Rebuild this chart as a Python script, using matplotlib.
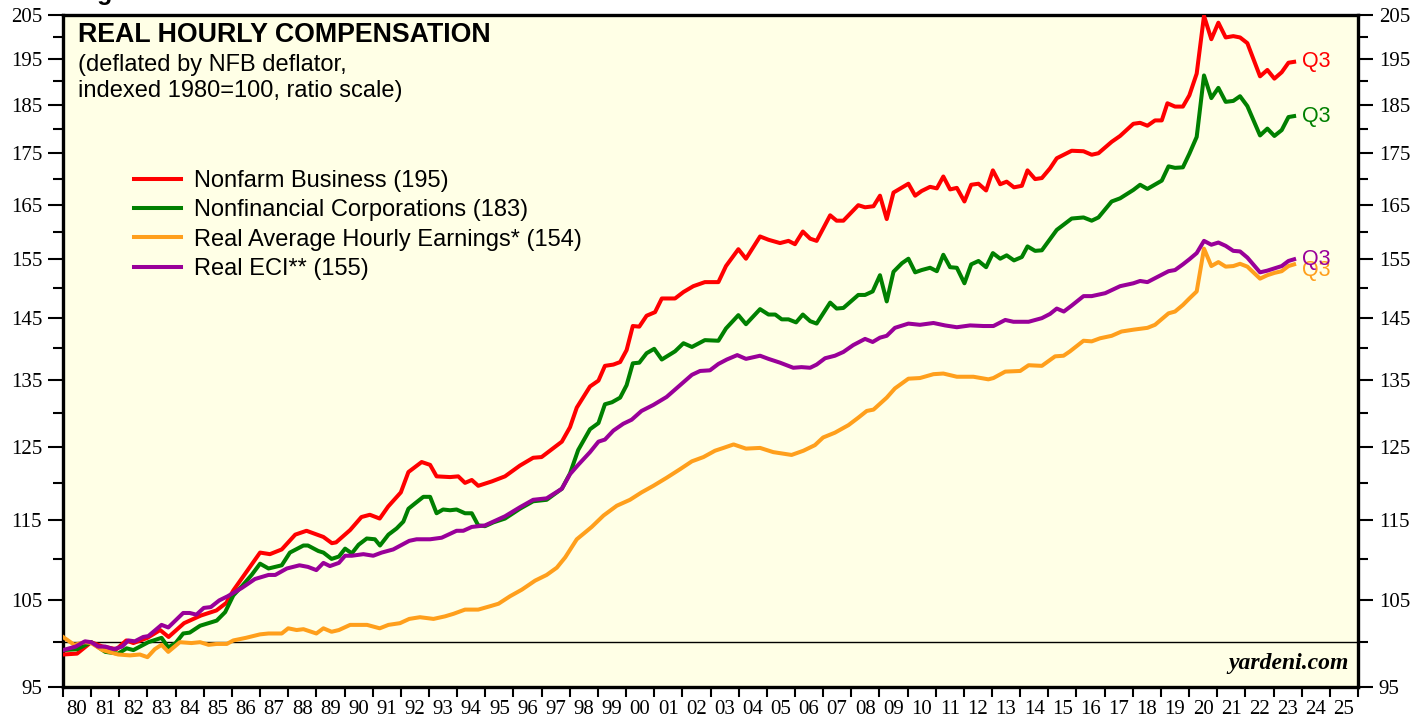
import numpy as np
import matplotlib.pyplot as plt
from matplotlib.ticker import FixedLocator, NullFormatter

# values (index, 1980=100)
nfb_t = [1980.0, 1980.5, 1981.0, 1981.4, 1981.9, 1982.25, 1982.5, 1983.0, 1983.45, 1983.75,
         1984.3, 1984.9, 1985.45, 1985.8, 1986.05, 1986.5, 1987.0, 1987.35, 1987.77, 1988.25,
         1988.65, 1989.25, 1989.55, 1989.7, 1990.2, 1990.6, 1990.9, 1991.25, 1991.55, 1992.0,
         1992.27, 1992.74, 1993.04, 1993.27, 1993.75, 1994.04, 1994.28, 1994.52, 1994.75, 1995.23,
         1995.7, 1996.23, 1996.7, 1997.0, 1997.72, 1998.01, 1998.25, 1998.72, 1999.02, 1999.25,
         1999.55, 1999.79, 2000.02, 2000.24, 2000.47, 2000.73, 2001.03, 2001.27, 2001.74, 2002.04,
         2002.39, 2002.8, 2003.28, 2003.55, 2003.99, 2004.26, 2004.76, 2005.06, 2005.47, 2005.77,
         2006.0, 2006.28, 2006.54, 2006.77, 2007.25, 2007.48, 2007.72, 2008.25, 2008.49, 2008.79,
         2009.02, 2009.26, 2009.5, 2010.03, 2010.27, 2010.5, 2010.8, 2011.04, 2011.27, 2011.51,
         2011.75, 2012.02, 2012.26, 2012.52, 2012.79, 2013.03, 2013.29, 2013.52, 2013.78, 2014.06,
         2014.26, 2014.53, 2014.77, 2015.06, 2015.3, 2015.83, 2016.25, 2016.54, 2016.78, 2017.25,
         2017.55, 2018.02, 2018.26, 2018.52, 2018.79, 2019.03, 2019.23, 2019.5, 2019.78, 2020.01,
         2020.27, 2020.53, 2020.79, 2021.04, 2021.3, 2021.57, 2021.81, 2022.07, 2022.52, 2022.78,
         2023.03, 2023.29, 2023.53, 2023.73]
nfb_v = [98.6, 98.7, 100.0, 99.5, 99.2, 100.2, 99.9, 100.5, 101.4, 100.6,
         102.2, 103.1, 103.7, 104.6, 106.1, 108.3, 110.8, 110.6, 111.2, 113.1,
         113.6, 112.8, 112.0, 112.1, 113.7, 115.4, 115.7, 115.2, 116.8, 118.7,
         121.5, 122.9, 122.5, 120.9, 120.8, 120.9, 120.0, 120.4, 119.6, 120.2,
         120.9, 122.4, 123.5, 123.6, 125.8, 127.9, 130.8, 134.0, 134.9, 137.2,
         137.4, 137.8, 139.7, 143.6, 143.5, 145.3, 145.9, 148.2, 148.2, 149.3,
         150.3, 151.0, 151.0, 153.8, 156.8, 155.1, 159.1, 158.5, 157.9, 158.3,
         157.7, 160.0, 158.7, 158.3, 163.0, 162.0, 162.0, 164.9, 164.5, 164.7,
         166.7, 162.3, 167.3, 169.0, 166.7, 167.6, 168.4, 168.1, 170.4, 167.9,
         168.2, 165.6, 168.8, 169.0, 167.7, 171.6, 168.9, 169.4, 168.3, 168.6,
         171.6, 169.9, 170.1, 172.0, 174.0, 175.5, 175.4, 174.7, 175.0, 177.3,
         178.5, 181.0, 181.2, 180.6, 181.7, 181.7, 185.3, 184.6, 184.6, 187.0,
         191.7, 204.8, 199.4, 203.2, 199.8, 200.1, 199.8, 198.5, 191.1, 192.5,
         190.6, 192.0, 194.1, 194.3]

nfc_t = [1980.0, 1980.5, 1981.0, 1981.5, 1981.96, 1982.26, 1982.5, 1983.03, 1983.5, 1983.74,
         1984.0, 1984.27, 1984.5, 1984.87, 1985.17, 1985.46, 1985.76, 1986.05, 1986.35, 1986.7,
         1987.0, 1987.3, 1987.77, 1988.06, 1988.54, 1988.7, 1989.07, 1989.25, 1989.54, 1989.8,
         1990.02, 1990.26, 1990.5, 1990.79, 1991.08, 1991.26, 1991.56, 1991.85, 1992.09, 1992.27,
         1992.5, 1992.8, 1993.04, 1993.27, 1993.5, 1993.75, 1993.98, 1994.28, 1994.52, 1994.75,
         1994.99, 1995.29, 1995.7, 1996.23, 1996.7, 1997.18, 1997.72, 1998.01, 1998.3, 1998.72,
         1999.02, 1999.25, 1999.5, 1999.79, 2000.02, 2000.24, 2000.47, 2000.73, 2001.0, 2001.27,
         2001.74, 2002.04, 2002.34, 2002.8, 2003.28, 2003.55, 2003.99, 2004.26, 2004.76, 2005.06,
         2005.3, 2005.53, 2005.77, 2006.04, 2006.28, 2006.54, 2006.77, 2007.25, 2007.48, 2007.72,
         2008.25, 2008.49, 2008.76, 2009.02, 2009.26, 2009.5, 2009.8, 2010.03, 2010.27, 2010.5,
         2010.8, 2011.04, 2011.27, 2011.51, 2011.75, 2012.02, 2012.26, 2012.52, 2012.79, 2013.03,
         2013.29, 2013.52, 2013.78, 2014.06, 2014.26, 2014.53, 2014.77, 2015.06, 2015.3, 2015.83,
         2016.25, 2016.54, 2016.78, 2017.25, 2017.55, 2018.02, 2018.26, 2018.52, 2019.03, 2019.27,
         2019.5, 2019.78, 2020.01, 2020.27, 2020.53, 2020.79, 2021.04, 2021.3, 2021.57, 2021.81,
         2022.07, 2022.52, 2022.78, 2023.03, 2023.29, 2023.53, 2023.73]
nfc_v = [99.1, 99.2, 100.0, 98.9, 98.7, 99.3, 99.1, 100.0, 100.5, 99.4,
         99.9, 101.0, 101.1, 101.9, 102.2, 102.5, 103.5, 105.5, 106.6, 108.0,
         109.4, 108.8, 109.2, 110.8, 111.7, 111.7, 111.0, 110.8, 110.0, 110.3,
         111.3, 110.7, 111.8, 112.6, 112.5, 111.7, 113.1, 113.9, 114.8, 116.5,
         117.2, 118.1, 118.1, 115.9, 116.4, 116.3, 116.4, 115.9, 115.9, 114.3,
         114.2, 114.7, 115.2, 116.5, 117.5, 117.7, 119.2, 121.3, 124.6, 127.6,
         128.5, 131.3, 131.6, 132.3, 134.2, 137.6, 137.7, 139.2, 139.9, 138.2,
         139.5, 140.8, 140.2, 141.3, 141.2, 143.2, 145.4, 143.9, 146.4, 145.5,
         145.5, 144.7, 144.7, 144.2, 145.5, 144.4, 144.0, 147.5, 146.5, 146.6,
         148.8, 148.8, 149.4, 152.2, 147.7, 152.8, 154.3, 155.1, 152.7, 153.1,
         153.5, 152.9, 155.8, 153.6, 153.5, 150.8, 154.1, 154.7, 153.6, 156.1,
         155.1, 155.7, 154.8, 155.4, 157.3, 156.5, 156.6, 158.6, 160.3, 162.4,
         162.6, 162.0, 162.6, 165.6, 166.2, 167.8, 168.8, 168.0, 169.6, 172.4,
         172.1, 172.2, 174.9, 178.3, 191.3, 186.4, 188.6, 185.6, 185.8, 186.8,
         184.7, 178.6, 180.0, 178.5, 179.7, 182.4, 182.6]

ahe_t = [1980.0, 1980.4, 1980.78, 1981.0, 1981.4, 1981.96, 1982.38, 1982.73, 1983.0, 1983.26,
         1983.5, 1983.74, 1984.15, 1984.56, 1984.87, 1985.17, 1985.46, 1985.82, 1986.05, 1986.5,
         1987.0, 1987.3, 1987.77, 1988.0, 1988.3, 1988.54, 1989.0, 1989.25, 1989.54, 1989.8,
         1990.2, 1990.8, 1991.25, 1991.56, 1991.97, 1992.3, 1992.68, 1993.16, 1993.57, 1993.87,
         1994.28, 1994.75, 1995.17, 1995.47, 1995.88, 1996.3, 1996.77, 1997.18, 1997.54, 1997.84,
         1998.25, 1998.55, 1998.78, 1999.2, 1999.67, 2000.14, 2000.55, 2000.97, 2001.44, 2001.92,
         2002.34, 2002.75, 2003.16, 2003.46, 2003.82, 2004.26, 2004.76, 2005.23, 2005.88, 2006.3,
         2006.71, 2007.0, 2007.42, 2007.9, 2008.25, 2008.55, 2008.79, 2009.26, 2009.55, 2010.03,
         2010.44, 2010.92, 2011.27, 2011.75, 2012.34, 2012.87, 2013.05, 2013.47, 2014.0, 2014.3,
         2014.77, 2015.24, 2015.54, 2015.77, 2016.25, 2016.54, 2016.84, 2017.25, 2017.6, 2018.02,
         2018.52, 2018.79, 2019.27, 2019.5, 2019.78, 2020.01, 2020.27, 2020.53, 2020.79, 2021.04,
         2021.3, 2021.57, 2021.81, 2022.07, 2022.52, 2022.78, 2023.03, 2023.29, 2023.53, 2023.73]
ahe_v = [100.6, 99.7, 100.0, 99.9, 99.1, 98.6, 98.5, 98.6, 98.3, 99.2,
         99.7, 98.9, 100.0, 99.9, 100.0, 99.7, 99.8, 99.8, 100.2, 100.5,
         100.9, 101.0, 101.0, 101.6, 101.4, 101.5, 101.0, 101.6, 101.2, 101.4,
         102.0, 102.0, 101.6, 102.0, 102.2, 102.7, 102.9, 102.7, 103.0, 103.3,
         103.8, 103.8, 104.2, 104.5, 105.4, 106.2, 107.3, 108.0, 108.9, 110.2,
         112.5, 113.4, 114.1, 115.6, 116.9, 117.7, 118.7, 119.6, 120.7, 121.9,
         123.0, 123.6, 124.5, 124.9, 125.4, 124.8, 124.9, 124.3, 123.9, 124.5,
         125.3, 126.4, 127.1, 128.2, 129.3, 130.3, 130.5, 132.3, 133.7, 135.2,
         135.3, 135.9, 136.0, 135.5, 135.5, 135.1, 135.3, 136.3, 136.4, 137.3,
         137.2, 138.7, 138.8, 139.5, 141.2, 141.1, 141.6, 142.0, 142.7, 143.0,
         143.3, 143.8, 145.7, 146.0, 147.1, 148.2, 149.4, 156.9, 153.8, 154.5,
         153.7, 153.8, 154.2, 153.7, 151.6, 152.2, 152.6, 152.9, 153.8, 154.1]

eci_t = [1980.0, 1980.45, 1980.78, 1981.0, 1981.25, 1981.5, 1981.8, 1982.1, 1982.32, 1982.55,
         1982.85, 1983.03, 1983.5, 1983.74, 1984.27, 1984.5, 1984.74, 1985.0, 1985.25, 1985.55,
         1985.85, 1986.35, 1986.82, 1987.3, 1987.54, 1987.95, 1988.4, 1988.7, 1989.0, 1989.25,
         1989.48, 1989.8, 1990.02, 1990.26, 1990.67, 1991.02, 1991.32, 1991.73, 1992.09, 1992.3,
         1992.56, 1993.04, 1993.45, 1993.75, 1993.98, 1994.22, 1994.52, 1994.99, 1995.29, 1995.7,
         1996.23, 1996.7, 1997.18, 1997.72, 1998.01, 1998.3, 1998.72, 1999.02, 1999.25, 1999.55,
         1999.9, 2000.2, 2000.55, 2000.97, 2001.44, 2001.92, 2002.34, 2002.63, 2002.98, 2003.28,
         2003.58, 2003.95, 2004.26, 2004.76, 2005.06, 2005.47, 2005.94, 2006.23, 2006.54, 2006.77,
         2007.07, 2007.42, 2007.72, 2008.07, 2008.49, 2008.76, 2009.02, 2009.26, 2009.55, 2010.03,
         2010.44, 2010.92, 2011.33, 2011.75, 2012.22, 2012.7, 2013.05, 2013.47, 2013.76, 2014.3,
         2014.77, 2015.06, 2015.3, 2015.55, 2015.83, 2016.25, 2016.54, 2017.02, 2017.55, 2018.02,
         2018.26, 2018.52, 2019.03, 2019.27, 2019.5, 2019.78, 2020.01, 2020.27, 2020.53, 2020.79,
         2021.04, 2021.3, 2021.57, 2021.81, 2022.07, 2022.52, 2022.78, 2023.03, 2023.29, 2023.53,
         2023.73]
eci_v = [99.1, 99.5, 100.1, 100.0, 99.5, 99.5, 99.2, 99.5, 100.2, 100.1,
         100.6, 100.7, 102.0, 101.7, 103.4, 103.4, 103.2, 104.0, 104.1, 104.9,
         105.4, 106.4, 107.5, 108.0, 108.0, 108.8, 109.2, 109.0, 108.6, 109.5,
         109.1, 109.5, 110.4, 110.4, 110.6, 110.4, 110.8, 111.2, 111.9, 112.3,
         112.5, 112.5, 112.7, 113.2, 113.6, 113.6, 114.1, 114.3, 114.8, 115.5,
         116.7, 117.7, 117.9, 119.2, 121.2, 122.5, 124.3, 125.8, 126.1, 127.4,
         128.4, 129.0, 130.3, 131.2, 132.4, 134.2, 135.8, 136.4, 136.5, 137.5,
         138.2, 138.9, 138.3, 138.8, 138.3, 137.7, 136.9, 137.0, 136.9, 137.4,
         138.4, 138.8, 139.4, 140.5, 141.5, 141.0, 141.7, 142.0, 143.3, 144.0,
         143.8, 144.1, 143.7, 143.4, 143.7, 143.6, 143.6, 144.6, 144.3, 144.3,
         144.9, 145.6, 146.5, 146.0, 147.0, 148.6, 148.6, 149.1, 150.3, 150.8,
         151.2, 151.0, 152.3, 152.9, 153.1, 154.1, 155.0, 156.1, 158.3, 157.6,
         158.0, 157.4, 156.5, 156.4, 155.3, 152.7, 153.0, 153.4, 153.8, 154.7,
         155.0]

series = [
    ('Nonfarm Business (195)', nfb_t, nfb_v, '#ff0000'),
    ('Nonfinancial Corporations (183)', nfc_t, nfc_v, '#008000'),
    ('Real Average Hourly Earnings* (154)', ahe_t, ahe_v, '#ff9f1c'),
    ('Real ECI** (155)', eci_t, eci_v, '#990099'),
]

y_major = [95, 105, 115, 125, 135, 145, 155, 165, 175, 185, 195, 205]
y_minor = [100, 110, 120, 130, 140, 150, 160, 170, 180, 190, 200]
years = list(range(1980, 2027))
year_labels = ['%02d' % (y % 100) for y in range(1980, 2026)]

fig = plt.figure(figsize=(14.27, 7.19), dpi=100)
ax = fig.add_axes([63 / 1427, 1 - 687 / 719, 1295 / 1427, 672 / 719])
ax.set_facecolor('#ffffe6')

ax.axhline(100, color='black', lw=1.0, zorder=1)

for label, t, v, c in series:
    ax.plot(t, v, color=c, lw=2.9, label=label, solid_joinstyle='round', zorder=3)

# Q3 tags at the end of each line
for label, t, v, c in series:
    off = -1.0 if c == '#ff9f1c' else 0.0
    ax.text(2024.0, v[-1] + off, 'Q3', color=c, fontsize=15.5, va='center', ha='left',
            family='Liberation Sans')

ax.set_yscale('log')
ax.set_ylim(95, 205)
ax.set_xlim(1980, 2026)

ax.yaxis.set_major_locator(FixedLocator(y_major))
ax.yaxis.set_minor_locator(FixedLocator(y_minor))
ax.set_yticklabels([str(v) for v in y_major])
ax.yaxis.set_minor_formatter(NullFormatter())

ax.xaxis.set_major_locator(FixedLocator(years))
ax.xaxis.set_minor_locator(FixedLocator([y + 0.5 for y in range(1980, 2026)]))
ax.set_xticklabels([])
ax.set_xticklabels(year_labels, minor=True)

ax.tick_params(axis='y', which='major', direction='out', length=11, width=1.5,
               left=True, right=True, labelleft=True, labelright=True, labelsize=15, pad=4)
ax.tick_params(axis='y', which='minor', direction='out', length=7, width=1.5,
               left=True, right=True)
ax.tick_params(axis='x', which='major', direction='out', length=7, width=1.5)
ax.tick_params(axis='x', which='minor', length=0, labelsize=15, pad=9)

for lab in ax.get_xticklabels(minor=True):
    lab.set_family('Liberation Serif')
for t in ax.yaxis.get_major_ticks():
    t.label1.set_family('Liberation Serif')
    t.label2.set_family('Liberation Serif')
    t.label2.set_fontsize(15)

for s in ax.spines.values():
    s.set_linewidth(2.4)

ax.text(0.0116, 0.970, 'REAL HOURLY COMPENSATION', transform=ax.transAxes,
        fontsize=19.3, fontweight='bold', family='Liberation Sans', va='center', ha='left')
ax.text(0.0116, 0.906, '(deflated by NFB deflator,\nindexed 1980=100, ratio scale)',
        transform=ax.transAxes, fontsize=17, family='Liberation Sans', va='center', ha='left',
        linespacing=1.2)

leg = ax.legend(loc='upper left', bbox_to_anchor=(134 / 1427, 1 - 170 / 719),
                bbox_transform=fig.transFigure, frameon=False,
                handlelength=2.0, handletextpad=0.55, labelspacing=0.31,
                borderpad=0, borderaxespad=0, prop={'family': 'Liberation Sans', 'size': 17})
for h in leg.get_lines():
    h.set_linewidth(2.9)

ax.text(0.9925, 0.020, 'yardeni.com', transform=ax.transAxes, fontsize=17,
        fontweight='bold', fontstyle='italic', family='Liberation Serif',
        ha='right', va='bottom')

fig.text(75 / 1427, 1.0, 'Fig', fontsize=18, fontweight='bold', family='Liberation Sans',
         va='baseline', ha='left')

fig.savefig('out.png', dpi=100)
